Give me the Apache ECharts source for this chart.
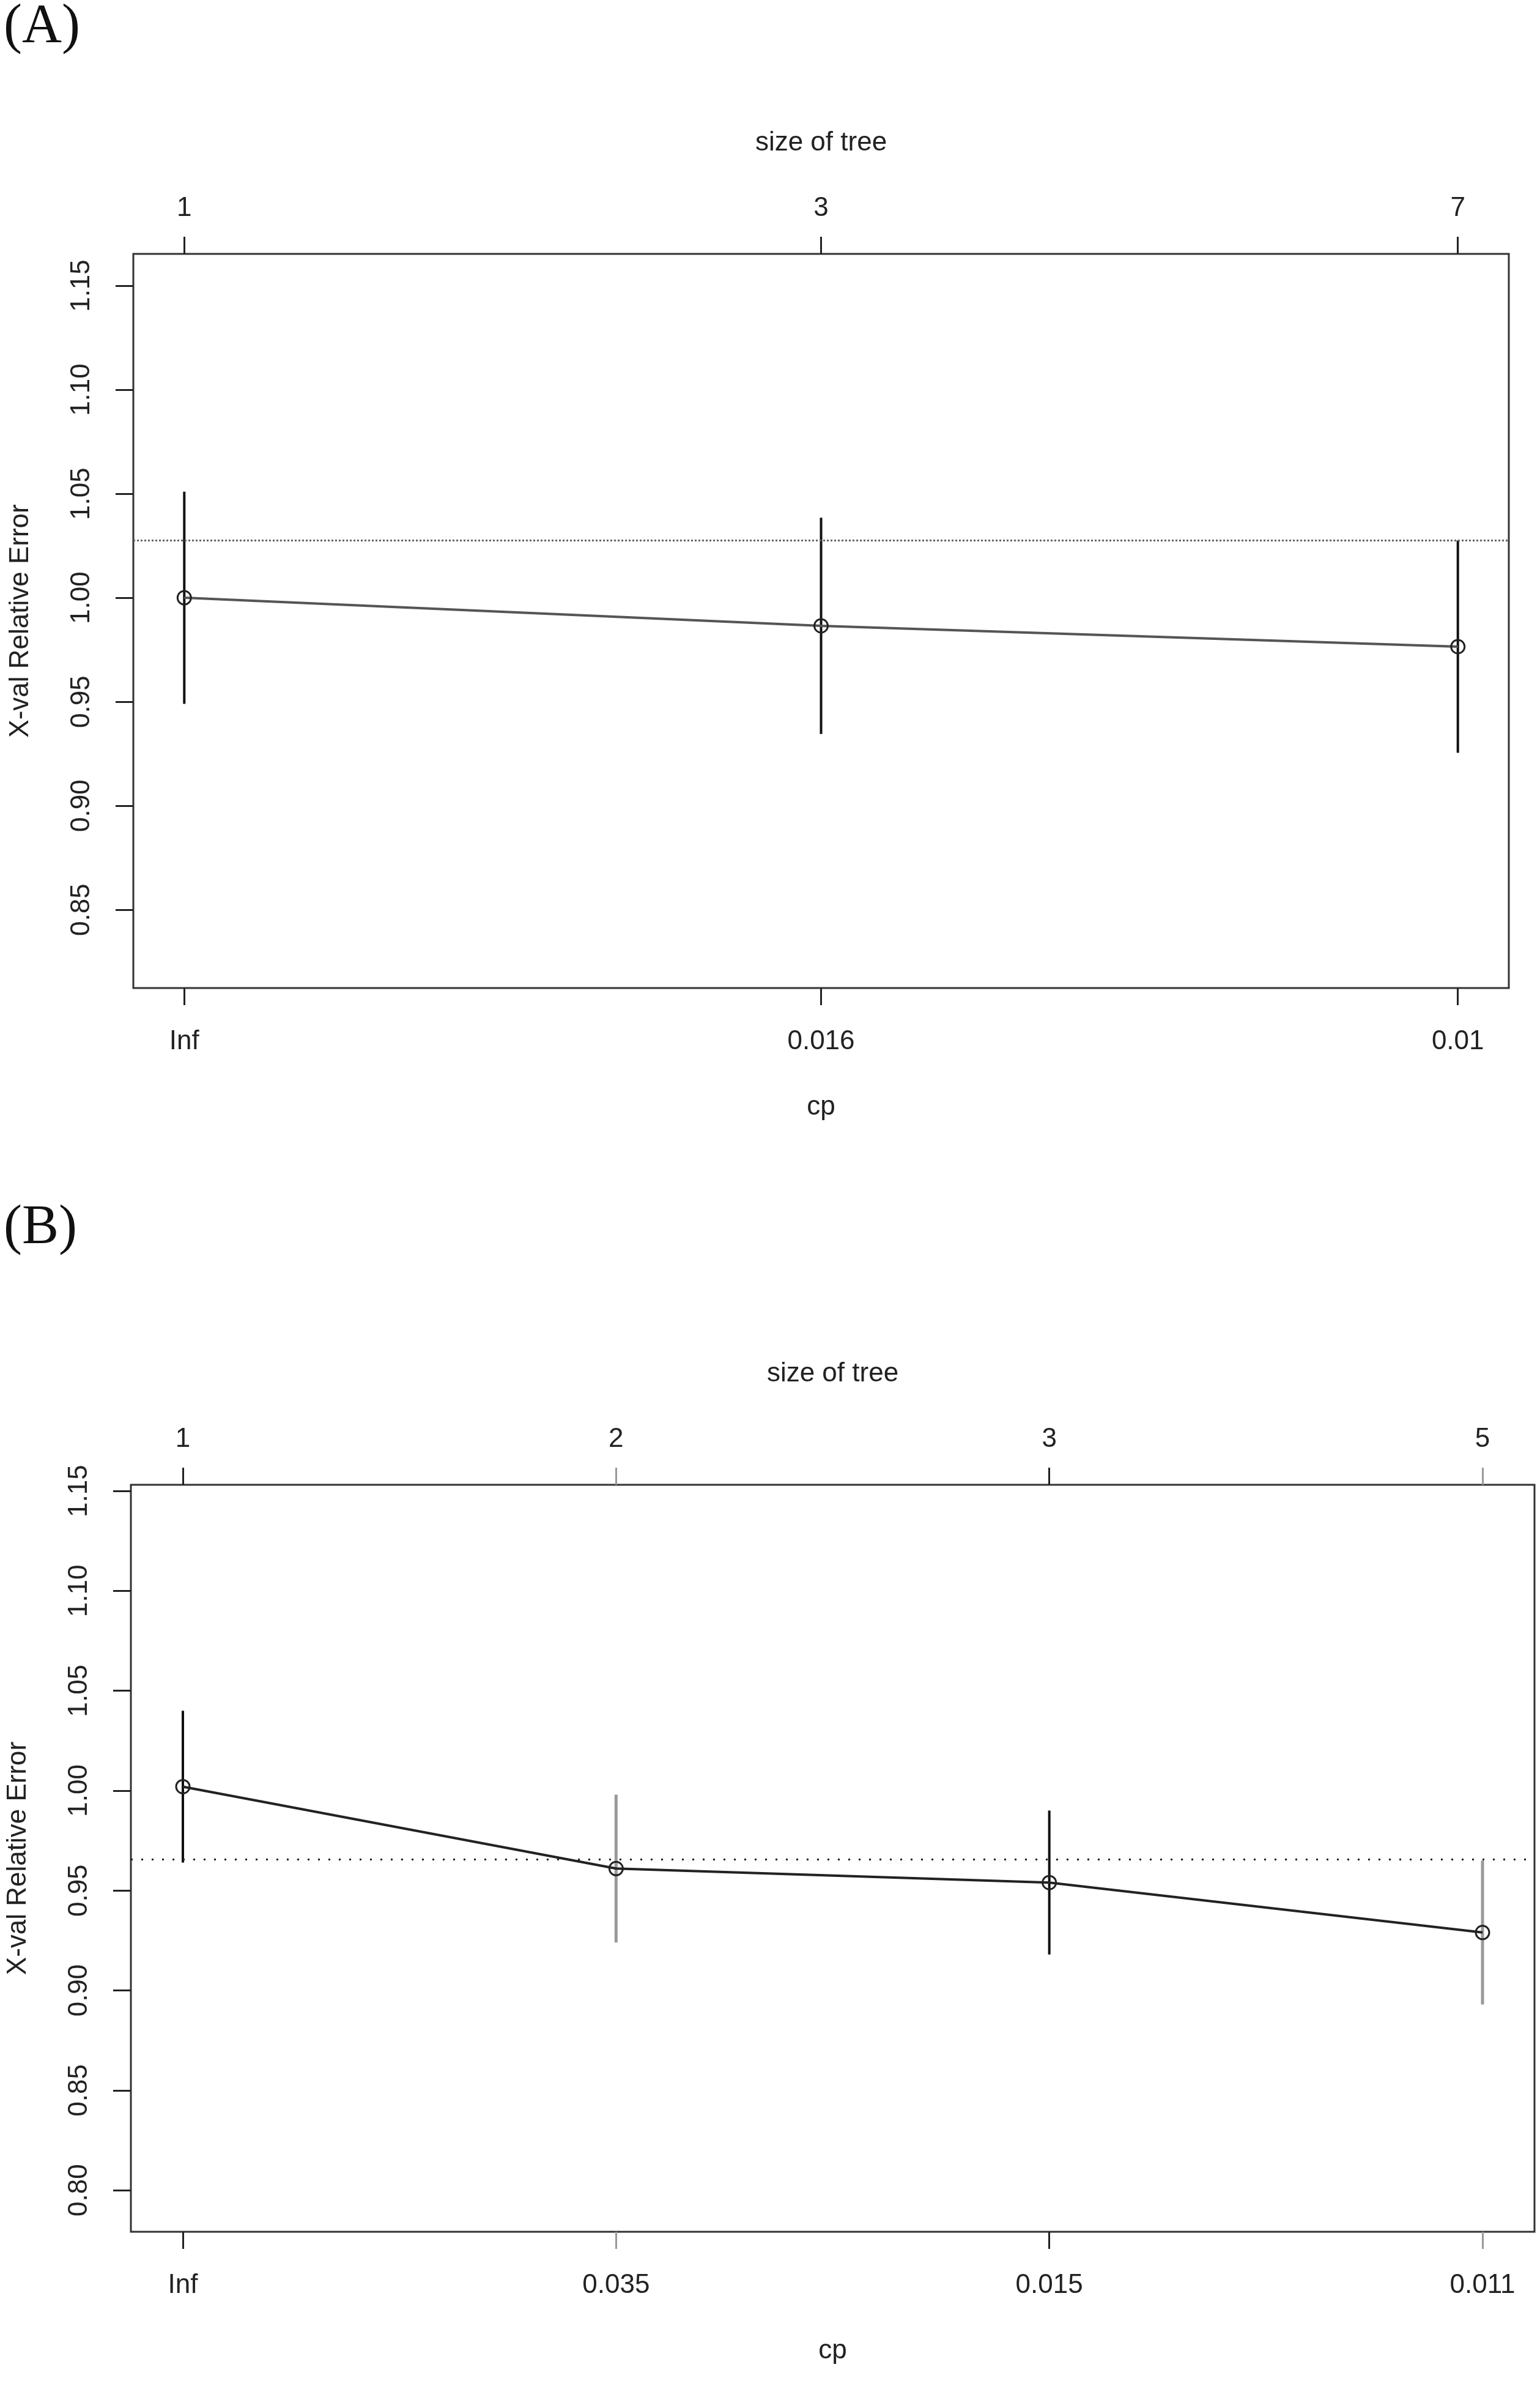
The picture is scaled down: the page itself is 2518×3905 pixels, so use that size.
<!DOCTYPE html>
<html>
<head>
<meta charset="utf-8">
<script src="https://cdn.jsdelivr.net/npm/echarts@6/dist/echarts.min.js"></script>
<style>
  html, body { margin: 0; background: #fff; }
  #chart { width: 2518px; height: 3905px; }
</style>
</head>
<body>
<div id="chart"></div>
<script>
// panel A
var cpA = ['Inf', '0.016', '0.01'];
var sizeA = ['1', '3', '7'];
var xerrA = [1.000, 0.9865, 0.9765];
var xstdA = [0.051, 0.052, 0.051];
var barColA = ['#111', '#111', '#111'];
var refA = 1.0276;
var yTicksA = [0.85, 0.90, 0.95, 1.00, 1.05, 1.10, 1.15];

// panel B
var cpB = ['Inf', '0.035', '0.015', '0.011'];
var sizeB = ['1', '2', '3', '5'];
var xerrB = [1.002, 0.961, 0.954, 0.929];
var xstdB = [0.038, 0.037, 0.036, 0.036];
var barColB = ['#111', '#999', '#111', '#999'];
var refB = 0.9657;
var yTicksB = [0.80, 0.85, 0.90, 0.95, 1.00, 1.05, 1.10, 1.15];

var FONT = 'Liberation Sans, Arial, sans-serif';
var TXT = '#222';

var chart = echarts.init(document.getElementById('chart'));

var grids = [
  { left: 218, top: 415, width: 2249, height: 1200 },
  { left: 212, top: 2427, width: 2297, height: 1221 }
];
grids.forEach(function (g) {
  g.show = true;
  g.borderColor = '#333';
  g.borderWidth = 3;
  g.backgroundColor = '#fff';
});

var xAxes = [], yAxes = [], series = [];

function panel(gi, cp, size, xerr, xstd, cols, ref, yTicks, ymin, ymax) {
  var n = cp.length;
  var pos = cp.map(function (c, i) { return i + 1; });
  var pad = 0.04 * (n - 1);
  var blackPos = pos.filter(function (p, i) { return cols[i] !== '#999'; });
  var grayPos = pos.filter(function (p, i) { return cols[i] === '#999'; });
  var base = {
    type: 'value', gridIndex: gi, min: 1 - pad, max: n + pad,
    axisLine: { show: false }, splitLine: { show: false }
  };
  var xi = xAxes.length;
  function tick(vals, color) {
    return { show: vals.length > 0, customValues: vals, length: 28, lineStyle: { color: color, width: 3 } };
  }
  // bottom cp axis
  xAxes.push(Object.assign({}, base, {
    position: 'bottom',
    axisTick: tick(blackPos, '#222'),
    axisLabel: { customValues: pos, margin: 66, fontSize: 44, fontFamily: FONT, color: TXT,
      formatter: function (v) { return cp[Math.round(v) - 1]; } },
    name: 'cp', nameLocation: 'middle', nameGap: 173,
    nameTextStyle: { fontSize: 44, fontFamily: FONT, color: TXT }
  }));
  xAxes.push(Object.assign({}, base, {
    position: 'bottom', axisTick: tick(grayPos, '#999'), axisLabel: { show: false }
  }));
  // top size-of-tree axis
  xAxes.push(Object.assign({}, base, {
    position: 'top',
    axisTick: tick(blackPos, '#222'),
    axisLabel: { customValues: pos, margin: 52, fontSize: 44, fontFamily: FONT, color: TXT,
      formatter: function (v) { return size[Math.round(v) - 1]; } },
    name: 'size of tree', nameLocation: 'middle', nameGap: 159,
    nameTextStyle: { fontSize: 44, fontFamily: FONT, color: TXT }
  }));
  xAxes.push(Object.assign({}, base, {
    position: 'top', axisTick: tick(grayPos, '#999'), axisLabel: { show: false }
  }));

  var yi = yAxes.length;
  yAxes.push({
    type: 'value', gridIndex: gi, min: ymin, max: ymax,
    axisLine: { show: false }, splitLine: { show: false },
    axisTick: { customValues: yTicks, length: 29, lineStyle: { color: '#222', width: 3 } },
    axisLabel: { customValues: yTicks, rotate: 90, margin: 62, fontSize: 44, fontFamily: FONT, color: TXT,
      formatter: function (v) { return v.toFixed(2); } },
    name: 'X-val Relative Error', nameLocation: 'middle', nameGap: 162,
    nameTextStyle: { fontSize: 44, fontFamily: FONT, color: TXT }
  });

  // error bars
  series.push({
    type: 'custom', xAxisIndex: xi, yAxisIndex: yi, z: 2,
    data: xerr.map(function (v, i) { return [i + 1, v - xstd[i], v + xstd[i], i]; }),
    encode: { x: 0, y: [1, 2] },
    renderItem: function (params, api) {
      var lo = api.coord([api.value(0), api.value(1)]);
      var hi = api.coord([api.value(0), api.value(2)]);
      var c = cols[api.value(3)];
      return {
        type: 'line',
        shape: { x1: lo[0], y1: lo[1], x2: hi[0], y2: hi[1] },
        style: { stroke: c, lineWidth: c === '#999' ? 5 : 4 }
      };
    }
  });
  // xerror line with open circles + reference line
  series.push({
    type: 'line', xAxisIndex: xi, yAxisIndex: yi, z: 3,
    data: xerr.map(function (v, i) { return [i + 1, v]; }),
    symbol: 'circle', symbolSize: 22,
    itemStyle: { color: 'rgba(0,0,0,0)', borderColor: '#222', borderWidth: 3 },
    lineStyle: { color: gi === 0 ? '#555' : '#222', width: 4 },
    markLine: {
      silent: true, symbol: 'none', precision: 4, label: { show: false },
      lineStyle: { type: gi === 0 ? 'dotted' : [3, 14], color: gi === 0 ? '#666' : '#222', width: 3 },
      data: [{ yAxis: ref }]
    }
  });
}

panel(0, cpA, sizeA, xerrA, xstdA, barColA, refA, yTicksA, 0.8124, 1.1653);
panel(1, cpB, sizeB, xerrB, xstdB, barColB, refB, yTicksB, 0.7792, 1.1531);

chart.setOption({
  backgroundColor: '#fff',
  animation: false,
  grid: grids,
  xAxis: xAxes,
  yAxis: yAxes,
  series: series,
  graphic: [
    { type: 'text', left: 6, top: 0, style: { text: '(A)', fontSize: 90, fontFamily: 'Liberation Serif, Times New Roman, serif', fill: '#111' } },
    { type: 'text', left: 6, top: 1963, style: { text: '(B)', fontSize: 90, fontFamily: 'Liberation Serif, Times New Roman, serif', fill: '#111' } }
  ]
});
</script>
</body>
</html>
